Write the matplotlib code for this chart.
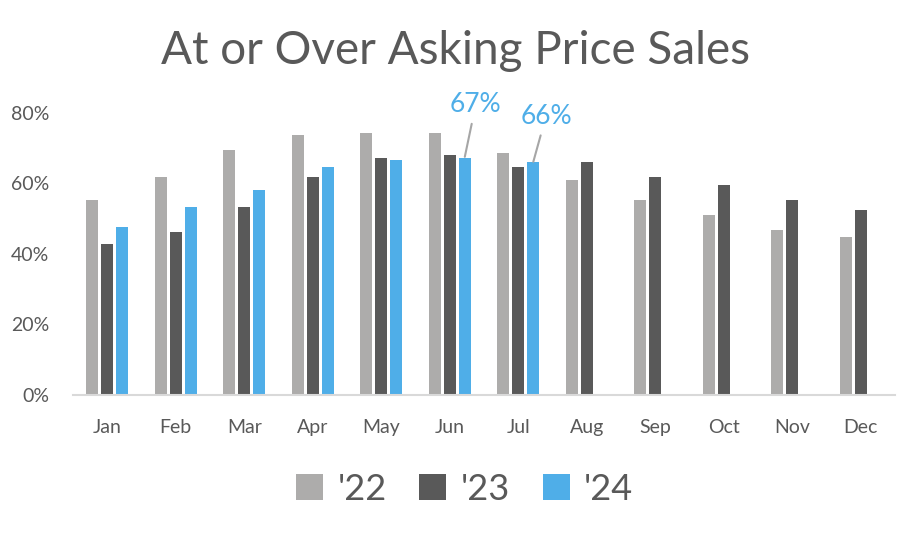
import matplotlib.pyplot as plt
import numpy as np

months = ['Jan', 'Feb', 'Mar', 'Apr', 'May', 'Jun', 'Jul', 'Aug', 'Sep', 'Oct', 'Nov', 'Dec']
sales_22 = [55.2, 61.7, 69.4, 73.7, 74.3, 74.3, 68.6, 60.9, 55.2, 51.1, 46.8, 44.8]
sales_23 = [42.7, 46.2, 53.2, 61.7, 67.3, 68.0, 64.5, 65.9, 61.7, 59.5, 55.2, 52.5]
sales_24 = [47.6, 53.2, 58.1, 64.5, 66.6, 67.3, 65.9]
series_labels = ["'22", "'23", "'24"]
callouts = {5: '67%', 6: '66%'}  # month index -> label shown for '24

plt.rcParams['font.family'] = ['Lato', 'DejaVu Sans']
text_color = '#595959'
colors = ['#adacab', '#595959', '#4faee8']

fig = plt.figure(figsize=(9.2, 5.36), dpi=100)
ax = fig.add_axes([0.0793, 0.263, 0.8937, 0.5267])

x = np.arange(len(months))
w = 0.175
step = 0.219
for i, (vals, lab, col) in enumerate(zip([sales_22, sales_23, sales_24], series_labels, colors)):
    xs = x[:len(vals)] + (i - 1) * step
    ax.bar(xs, vals, width=w, color=col, label=lab, zorder=2)

# callouts for the latest months
offsets = {5: (0.16, 11.5), 6: (0.185, 9.6)}
for idx, txt in callouts.items():
    bx = x[idx] + step
    by = sales_24[idx]
    dx, dy = offsets[idx]
    ax.annotate(txt, xy=(bx, by + 0.2), xytext=(bx + dx, by + dy),
                color='#4faee8', fontsize=19, ha='center', va='bottom',
                arrowprops=dict(arrowstyle='-', color='#a6a6a6', lw=1.5,
                                shrinkA=3, shrinkB=0))

ax.set_xlim(-0.5, 11.5)
ax.set_ylim(0, 80)
ax.set_yticks([0, 20, 40, 60, 80])
ax.set_yticklabels([f'{v}%' for v in [0, 20, 40, 60, 80]])
ax.set_xticks(x)
ax.set_xticklabels(months)
ax.tick_params(axis='both', length=0, colors=text_color, labelsize=14)
ax.tick_params(axis='x', pad=17)
ax.tick_params(axis='y', pad=17)
for s in ['top', 'right', 'left']:
    ax.spines[s].set_visible(False)
ax.spines['bottom'].set_color('#d9d9d9')
ax.spines['bottom'].set_linewidth(1.5)

fig.text(0.495, 0.905, 'At or Over Asking Price Sales', ha='center', va='center',
         fontsize=33, color=text_color)

leg = fig.legend(loc='center', bbox_to_anchor=(0.505, 0.087), ncol=3, frameon=False,
                 fontsize=26, handlelength=0.75, handleheight=0.75, handletextpad=0.4,
                 columnspacing=0.9)
for t in leg.get_texts():
    t.set_color(text_color)

fig.savefig('out.png', dpi=100, facecolor='white')
